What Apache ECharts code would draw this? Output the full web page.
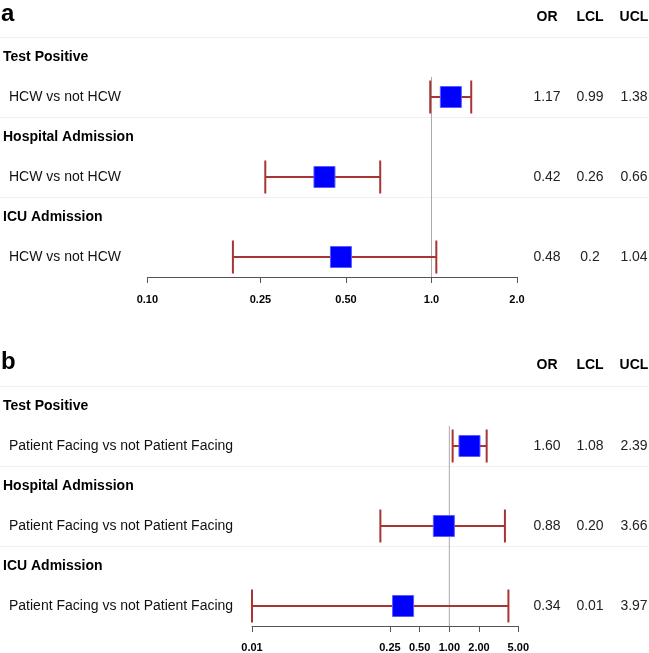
<!DOCTYPE html>
<html>
<head>
<meta charset="UTF-8">
<title>Forest plot</title>
<script type="text/javascript" src="https://cdn.jsdelivr.net/npm/echarts@6/dist/echarts.min.js"></script>
<style>html,body{margin:0;padding:0;background:#fff;}</style>
</head>
<body>
<div id="main" style="width:649px;height:653px;"></div>
<script type="text/javascript">
// outcome groups (same for both panels)
var groups = ['Test Positive', 'Hospital Admission', 'ICU Admission'];

// panel a
var compA = 'HCW vs not HCW';
var orA  = [1.17, 0.42, 0.48];
var lclA = [0.99, 0.26, 0.20];
var uclA = [1.38, 0.66, 1.04];
var ticksA = [0.1, 0.25, 0.5, 1, 2];
var tickLabelsA = ['0.10', '0.25', '0.50', '1.0', '2.0'];

// panel b
var compB = 'Patient Facing vs not Patient Facing';
var orB  = [1.60, 0.88, 0.34];
var lclB = [1.08, 0.20, 0.01];
var uclB = [2.39, 3.66, 3.97];
var ticksB = [0.01, 0.25, 0.5, 1, 2, 5];
var tickLabelsB = ['0.01', '0.25', '0.50', '1.00', '2.00', '5.00'];

var FONT = '"Liberation Sans", Arial, Helvetica, sans-serif';
var colX = [547, 590, 634];

function cats(comp) {
    var out = [];
    groups.forEach(function (g) { out.push(g); out.push(comp); });
    return out;
}

function tickFmt(ticks, labels) {
    return function (v) {
        for (var i = 0; i < ticks.length; i++) {
            if (Math.abs(Math.log(v / ticks[i])) < 1e-6) return labels[i];
        }
        return '';
    };
}

function xAxisFor(idx, ticks, labels, margin) {
    return {
        type: 'log', gridIndex: idx, logBase: 10,
        min: ticks[0], max: ticks[ticks.length - 1],
        position: 'bottom',
        splitLine: { show: false },
        axisLine: { show: true, lineStyle: { color: '#555', width: 1 } },
        axisTick: { show: true, customValues: ticks, length: 6, lineStyle: { color: '#555', width: 1 } },
        axisLabel: {
            customValues: ticks, margin: margin,
            formatter: tickFmt(ticks, labels),
            fontFamily: FONT, fontSize: 11, fontWeight: 'bold', color: '#000'
        }
    };
}

function yAxisFor(idx, comp, margin) {
    return {
        type: 'category', gridIndex: idx, inverse: true,
        data: cats(comp),
        axisLine: { show: false }, axisTick: { show: false },
        splitLine: { show: false },
        axisLabel: {
            align: 'left', margin: margin,
            formatter: function (v, i) { return (i % 2 === 0 ? '{h|' : '{r|') + v + '}'; },
            rich: {
                h: { fontFamily: FONT, fontSize: 14, fontWeight: 'bold', color: '#000' },
                r: { fontFamily: FONT, fontSize: 14, color: '#111', padding: [0, 0, 0, 6] }
            }
        }
    };
}

function barData(or, lcl, ucl) {
    return or.map(function (v, i) { return [v, 2 * i + 1, lcl[i], ucl[i]]; });
}

function renderBar(params, api) {
    var y = api.value(1);
    var c = api.coord([api.value(0), y]);
    var lo = api.coord([api.value(2), y]);
    var hi = api.coord([api.value(3), y]);
    var capH = 33, box = 21;
    var st = { stroke: '#A83434', lineWidth: 2 };
    return {
        type: 'group',
        children: [
            { type: 'line', shape: { x1: lo[0], y1: c[1], x2: hi[0], y2: c[1] }, style: st },
            { type: 'line', shape: { x1: lo[0], y1: c[1] - capH / 2, x2: lo[0], y2: c[1] + capH / 2 }, style: st },
            { type: 'line', shape: { x1: hi[0], y1: c[1] - capH / 2, x2: hi[0], y2: c[1] + capH / 2 }, style: st },
            { type: 'rect', shape: { x: c[0] - box / 2, y: c[1] - box / 2, width: box, height: box },
              style: { fill: '#0000FF', stroke: '#5a5aff', lineWidth: 1 } }
        ]
    };
}

function renderRef(params, api) {
    var band = api.size([0, 1])[1];
    var top = api.coord([1, 1])[1] - band / 2;
    var cs = params.coordSys;
    var x = api.coord([1, 1])[0];
    return { type: 'line', silent: true,
        shape: { x1: x, y1: top, x2: x, y2: cs.y + cs.height },
        style: { stroke: '#aaaaaa', lineWidth: 1 } };
}

function tableRenderer(fmt) {
    return function (params, api) {
        var y = api.coord([1, api.value(1)])[1];
        var band = api.size([0, 1])[1];
        var sepY = Math.round(y - 1.5 * band) + 0.5;
        var vals = [api.value(0), api.value(2), api.value(3)];
        var children = [{ type: 'line', silent: true,
            shape: { x1: 0, y1: sepY, x2: api.getWidth(), y2: sepY },
            style: { stroke: '#f0f0f0', lineWidth: 1 } }];
        vals.forEach(function (v, k) {
            children.push({ type: 'text', x: colX[k], y: y,
                style: { text: fmt(v), fill: '#222', font: '14px ' + FONT,
                         align: 'center', verticalAlign: 'middle' } });
        });
        return { type: 'group', children: children };
    };
}

function headerText(top, letter) {
    var out = [{ type: 'text', left: 1, top: top - 15,
        style: { text: letter, font: 'bold 24px ' + FONT, fill: '#000' } }];
    ['OR', 'LCL', 'UCL'].forEach(function (t, k) {
        out.push({ type: 'text', x: colX[k], y: top,
            style: { text: t, font: 'bold 14px ' + FONT, fill: '#000', align: 'center', verticalAlign: 'middle' } });
    });
    return out;
}

var myChart = echarts.init(document.getElementById('main'));
var option = {
    animation: false,
    backgroundColor: '#fff',
    grid: [
        { left: 147.4, width: 369.6, top: 37, height: 240 },
        { left: 252, width: 266.3, top: 386, height: 240 }
    ],
    xAxis: [
        xAxisFor(0, ticksA, tickLabelsA, 17),
        xAxisFor(1, ticksB, tickLabelsB, 16)
    ],
    yAxis: [
        yAxisFor(0, compA, 144.4),
        yAxisFor(1, compB, 249)
    ],
    graphic: headerText(17, 'a').concat(headerText(365, 'b')),
    series: [
        { type: 'custom', xAxisIndex: 0, yAxisIndex: 0, data: barData(orA, lclA, uclA),
          renderItem: tableRenderer(function (v) { return String(v); }) },
        { type: 'custom', xAxisIndex: 1, yAxisIndex: 1, data: barData(orB, lclB, uclB),
          renderItem: tableRenderer(function (v) { return v.toFixed(2); }) },
        { type: 'custom', xAxisIndex: 0, yAxisIndex: 0, data: [[1, 1]], renderItem: renderRef },
        { type: 'custom', xAxisIndex: 1, yAxisIndex: 1, data: [[1, 1]], renderItem: renderRef },
        { type: 'custom', xAxisIndex: 0, yAxisIndex: 0, data: barData(orA, lclA, uclA), renderItem: renderBar },
        { type: 'custom', xAxisIndex: 1, yAxisIndex: 1, data: barData(orB, lclB, uclB), renderItem: renderBar }
    ]
};
myChart.setOption(option);
</script>
</body>
</html>
